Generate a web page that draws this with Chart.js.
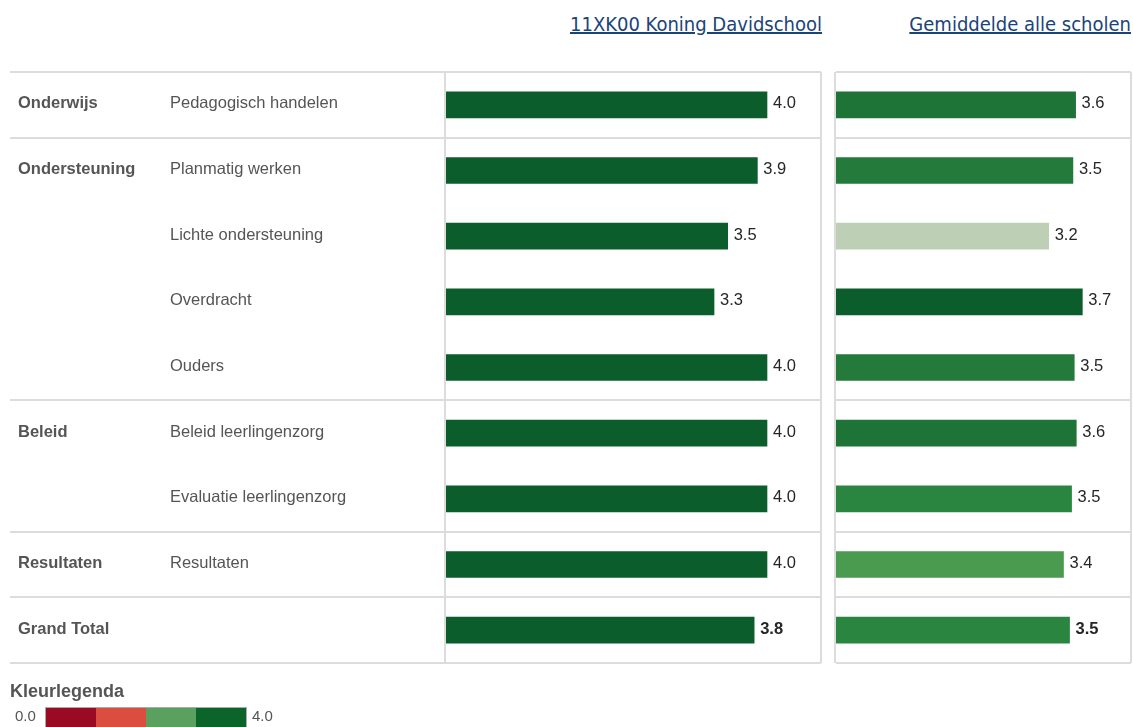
<!DOCTYPE html>
<html>
<head>
<meta charset="utf-8">
<script src="https://cdn.jsdelivr.net/npm/chart.js@4.4.0/dist/chart.umd.min.js"></script>
<style>
  body { margin: 0; background: #fff; width: 1133px; height: 727px; overflow: hidden; position: relative;
         font-family: "Liberation Sans", Arial, sans-serif; }
  .title { position: absolute; top: 12px; font-family: "DejaVu Sans Condensed", Tahoma, sans-serif;
           font-size: 20px; color: #1a4478; text-decoration: underline; white-space: nowrap; }
  #t1 { right: 311px; }
  #t2 { right: 2px; }
  #wrap1 { position: absolute; left: 0; top: 0; width: 830px; height: 727px; }
  #wrap2 { position: absolute; left: 830px; top: 0; width: 303px; height: 727px; }
  #legTitle { position: absolute; left: 10px; top: 681px; font-weight: bold; font-size: 18px; color: #555; }
  .legNum { position: absolute; top: 707px; font-size: 15px; color: #555; }
  #legBar { position: absolute; left: 45px; top: 707px; height: 22px; display: flex; border: 1px solid #aaa; }
  #legBar div { width: 50px; height: 22px; }
</style>
</head>
<body>
<div class="title" id="t1">11XK00 Koning Davidschool</div>
<div class="title" id="t2">Gemiddelde alle scholen</div>
<div id="wrap1"><canvas id="schoolChart"></canvas></div>
<div id="wrap2"><canvas id="avgChart"></canvas></div>
<div id="legTitle">Kleurlegenda</div>
<div class="legNum" style="left:15px">0.0</div>
<div id="legBar"></div>
<div class="legNum" style="left:252px">4.0</div>
<script>
/* ========= DATA ========= */
const groups = ["Onderwijs", "Ondersteuning", "", "", "", "Beleid", "", "Resultaten", "Grand Total"];
const categories = ["Pedagogisch handelen", "Planmatig werken", "Lichte ondersteuning", "Overdracht", "Ouders",
                    "Beleid leerlingenzorg", "Evaluatie leerlingenzorg", "Resultaten", ""];
const schoolValues = [4.0, 3.88, 3.51, 3.34, 4.0, 4.0, 4.0, 4.0, 3.84];
const avgValues = [3.56, 3.52, 3.16, 3.66, 3.54, 3.57, 3.50, 3.38, 3.47];
const schoolColors = ["#0b5e2c", "#0b5e2c", "#0b5e2c", "#0b5e2c", "#0b5e2c", "#0b5e2c", "#0b5e2c", "#0b5e2c", "#0b5e2c"];
const avgColors = ["#1e7337", "#237a3a", "#bdcfb4", "#0b5e2c", "#237a3a", "#1e7337", "#2a8541", "#4a9b50", "#2a8541"];
const groupStarts = [0, 1, 5, 7, 8];
const totalRow = 8;
const legendColors = ["#9b0a23", "#db4d3e", "#5aa05f", "#0b6429"];

legendColors.forEach(c => {
  const d = document.createElement("div");
  d.style.background = c;
  document.getElementById("legBar").appendChild(d);
});

/* ========= TABLE PLUGIN (grid lines, labels) ========= */
const tablePlugin = {
  id: "table",
  beforeDatasetsDraw(chart, args, opts) {
    const { ctx, chartArea: a, scales: { y } } = chart;
    const rowH = (a.bottom - a.top) / categories.length;
    const x0 = opts.lineStart !== undefined ? opts.lineStart : a.left;
    ctx.save();
    ctx.strokeStyle = "#dcdcdc";
    ctx.lineWidth = 2;
    ctx.beginPath();
    groupStarts.concat([categories.length]).forEach(i => {
      const yy = Math.round(y.getPixelForValue(0) - rowH / 2 + i * rowH);
      ctx.moveTo(x0, yy);
      ctx.lineTo(a.right, yy);
    });
    ctx.moveTo(a.left - 1, a.top);
    ctx.lineTo(a.left - 1, a.bottom);
    ctx.moveTo(a.right, a.top);
    ctx.lineTo(a.right, a.bottom);
    ctx.stroke();
    ctx.restore();
  },
  afterDatasetsDraw(chart, args, opts) {
    const { ctx, scales: { x, y } } = chart;
    const values = chart.data.datasets[0].data;
    ctx.save();
    ctx.textBaseline = "middle";
    values.forEach((v, i) => {
      const yy = y.getPixelForValue(i);
      ctx.fillStyle = "#262626";
      ctx.font = (i === totalRow ? "bold " : "") + "16.5px 'Liberation Sans', Arial";
      ctx.fillText((Math.round(v * 10) / 10).toFixed(1), x.getPixelForValue(v) + 6, yy - 1);
      if (opts.rowLabels) {
        ctx.fillStyle = "#555";
        ctx.font = "bold 16.5px 'Liberation Sans', Arial";
        ctx.fillText(groups[i], 18, yy - 1);
        ctx.font = "16.5px 'Liberation Sans', Arial";
        ctx.fillText(categories[i], 170, yy - 1);
      }
    });
    ctx.restore();
  }
};

/* ========= CREATE CHARTS ========= */
function makeChart(id, values, colors, xMax, padding, pluginOpts) {
  return new Chart(document.getElementById(id), {
    type: "bar",
    data: {
      labels: categories,
      datasets: [{
        data: values,
        backgroundColor: colors,
        borderWidth: 0,
        barThickness: 26
      }]
    },
    options: {
      indexAxis: "y",
      responsive: true,
      maintainAspectRatio: false,
      animation: false,
      layout: { padding: padding },
      scales: {
        x: { display: false, min: 0, max: xMax },
        y: { display: false }
      },
      plugins: {
        legend: { display: false },
        tooltip: { enabled: false },
        table: pluginOpts
      }
    },
    plugins: [tablePlugin]
  });
}

document.addEventListener("DOMContentLoaded", () => {
  makeChart("schoolChart", schoolValues, schoolColors, 4.673,
            { left: 446, right: 9, top: 72, bottom: 64 }, { lineStart: 10, rowLabels: true });
  makeChart("avgChart", avgValues, avgColors, 4.383,
            { left: 6, right: 2, top: 72, bottom: 64 }, { rowLabels: false });
});
</script>
</body>
</html>
